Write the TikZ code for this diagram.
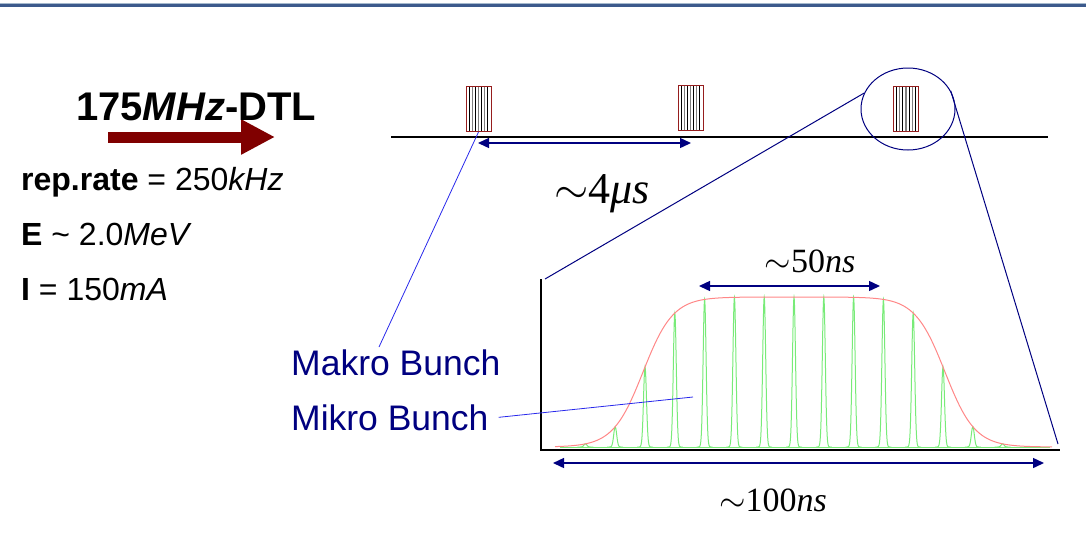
\RequirePackage{fix-cm}
\documentclass[tikz,border=0pt]{standalone}
\usepackage{fontspec}
\setmainfont{Liberation Sans}
\newfontfamily\timesface{Liberation Serif}
\usepackage{xcolor}
\usepackage{tikz}
\usetikzlibrary{positioning,arrows.meta,shapes.geometric}
\definecolor{navy}{RGB}{0,0,128}
\definecolor{ptrblue}{RGB}{40,40,235}
\definecolor{dtlred}{RGB}{128,0,0}
\definecolor{bunchred}{RGB}{150,30,30}
\definecolor{envred}{RGB}{255,135,135}
\definecolor{peakgreen}{RGB}{120,235,120}
\definecolor{bardark}{RGB}{60,90,140}
\definecolor{barlight}{RGB}{165,185,205}

\begin{document}
\begin{tikzpicture}[x=1pt, y=-1pt,
  txt/.style={anchor=base west, inner sep=0pt, font=\fontsize{32}{36}\selectfont},
  lbl/.style={anchor=base west, inner sep=0pt, text=navy, font=\fontsize{35.5}{40}\selectfont},
  val/.style={anchor=base, inner sep=0pt, font=\timesface\fontsize{34}{40}\selectfont},
  bunch/.style={draw=bunchred, line width=1pt, fill=white, minimum width=25pt, minimum height=45pt, inner sep=0pt,
    path picture={
      \foreach \i in {1,3,5,7} \draw[black, line width=1.1pt] ([xshift=\i*3.125pt]path picture bounding box.south west) -- ([xshift=\i*3.125pt]path picture bounding box.north west);
      \foreach \i in {2,4,6} \draw[gray, line width=1.1pt] ([xshift=\i*3.125pt]path picture bounding box.south west) -- ([xshift=\i*3.125pt]path picture bounding box.north west);}},
  dim/.style={{Triangle[length=11pt,width=10pt]}-{Triangle[length=11pt,width=10pt]}, navy, line width=1.4pt},
  ptr/.style={ptrblue, line width=0.8pt},
  zoomln/.style={navy, line width=1pt}]
\useasboundingbox (0,0) rectangle (1086,542);
\fill[barlight] (0,2.5) rectangle (1086,4);
\fill[bardark] (0,4) rectangle (1086,6.5);

% DTL
\coordinate (ta) at (108,137); \coordinate (tb) at (275,137);
\draw[dtlred, line width=11pt, -{Triangle[length=34pt,width=33pt]}] (ta) -- (tb);
\node[txt, font=\bfseries\fontsize{40}{44}\selectfont] (dtl) at (76,120) {175\textit{MHz}-DTL};
\node[txt] (rep) at (21,190) {\textbf{rep.rate} = 250\textit{kHz}};
\node[txt] (en) at (21,245) {\textbf{E} \textasciitilde{} 2.0\textit{MeV}};
\node[txt] (cur) at (21,300) {\textbf{I} = 150\textit{mA}};

% pulse train
\coordinate (l0) at (391,137); \coordinate (l1) at (1048,137);
\draw[line width=2pt] (l0) -- (l1);
\node[bunch] (b1) at (478.5,109) {};
\node[bunch] (b2) at (690.5,108) {};
\node[bunch] (b3) at (906,109) {};
\coordinate (s1) at (478,143); \coordinate (s2) at (691,143);
\draw[dim] (s1) -- (s2);
\node[val, font=\timesface\fontsize{44}{48}\selectfont] (t4) at (602,203) {$\sim$4\textit{μs}};
\node[draw=navy, line width=1pt, ellipse, minimum width=94pt, minimum height=82pt, inner sep=0pt] (lens) at (908,109) {};

% macro bunch
\coordinate (o) at (541,450); \coordinate (ya) at (541,279); \coordinate (xa) at (1060,450);
\draw[line width=2pt] (ya) -- (o) -- (xa);
\draw[peakgreen, line width=1pt] (560,447) -- (1050,447);
\foreach \k in {-7,...,7} {
  \pgfmathsetmacro{\c}{794+29.8*\k}
  \pgfmathsetmacro{\a}{150/(1+exp((abs(29.8*\k)-151)/15))}
  \draw[peakgreen, line width=1pt] plot[domain=-8:8, samples=33, smooth] ({\c+\x}, {447-\a*exp(0-(\x/2.1)*(\x/2.1))});
}
\draw[envred, line width=1pt] plot[domain=555:1052, samples=200, smooth] (\x, {447-150/(1+exp((abs(\x-794)-151)/15))});
\coordinate (p1) at (699,286); \coordinate (p2) at (880,286);
\draw[dim] (p1) -- (p2);
\node[val] (t50) at (810,272) {$\sim$50\textit{ns}};
\coordinate (q1) at (553,463); \coordinate (q2) at (1044,463);
\draw[dim] (q1) -- (q2);
\node[val] (t100) at (773,511) {$\sim$100\textit{ns}};

\coordinate (za) at (545,279); \coordinate (zb) at (1058,444);
\draw[zoomln] (lens.160) -- (za);
\draw[zoomln] (lens.23) -- (zb);

\node[lbl] (mak) at (291,375) {Makro Bunch};
\node[lbl] (mik) at (291,430) {Mikro Bunch};
\coordinate (mkt) at (379,347);
\draw[ptr] (mkt) -- (b1.south);
\coordinate (mit) at (693,397);
\draw[ptr] ([xshift=10pt]mik.east) -- (mit);
\end{tikzpicture}
\end{document}
